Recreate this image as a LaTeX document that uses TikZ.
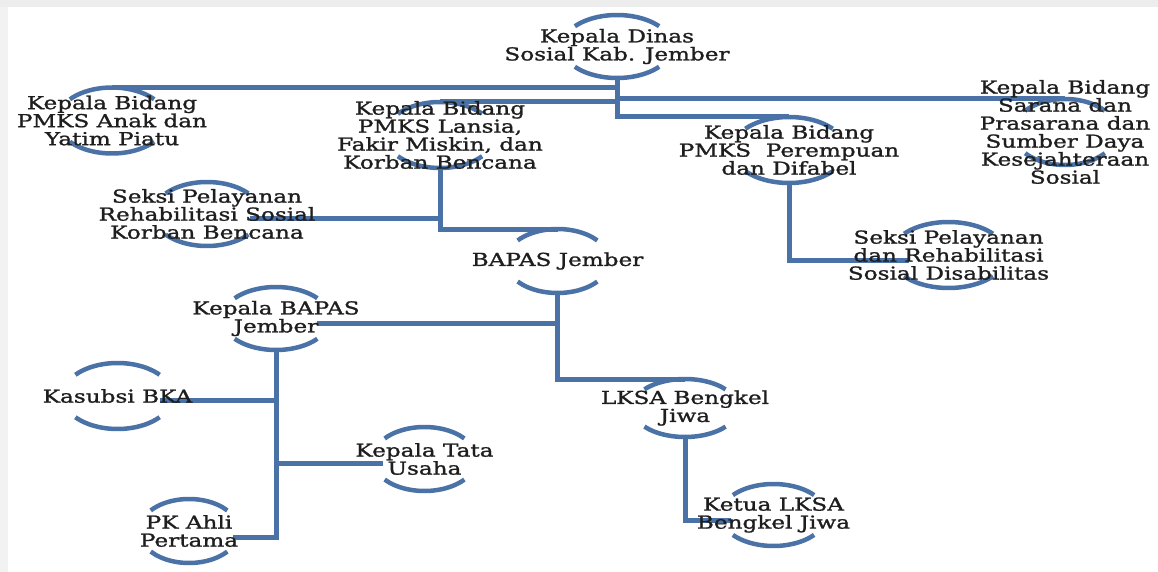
\documentclass[tikz,border=0pt]{standalone}
\usepackage{fontspec}
\usetikzlibrary{shapes.geometric}
\newfontfamily\camfont[FakeStretch=1.3,FakeBold=1.3]{DejaVu Serif}
\definecolor{blu}{HTML}{4A72A6}
\definecolor{txt}{HTML}{1E1E1E}
\pgfdeclarelayer{bg}
\pgfdeclarelayer{background}
\pgfsetlayers{bg,background,main}
\tikzset{
  ovalshape/.style={shape=ellipse, draw=none, inner sep=0pt, outer sep=0pt},
  arcline/.style={draw=blu, line width=4.5pt},
  conn/.style={draw=blu, line width=5pt, line join=miter},
  lbl/.style={font=\camfont\fontsize{17.8}{18}\selectfont, align=center, text=txt, inner sep=0pt}
}
\newcommand{\ovl}[6]{%
  \node[ovalshape, minimum width=#4*2pt, minimum height=#5*2pt] (#1) at (#2,#3) {};
  \begin{pgfonlayer}{background}
  \draw[arcline] (#1.center) ++(40:#4pt and #5pt) arc[start angle=40,end angle=140,x radius=#4pt,y radius=#5pt];
  \draw[arcline] (#1.center) ++(220:#4pt and #5pt) arc[start angle=220,end angle=320,x radius=#4pt,y radius=#5pt];
  \end{pgfonlayer}
  \node[lbl] (#1-t) at (#1.center) {#6};
}
\begin{document}
\begin{tikzpicture}[x=1pt,y=-1pt]
\useasboundingbox (0,0) rectangle (1158,572);
\begin{pgfonlayer}{bg}
\fill[white] (0,0) rectangle (1158,572);
\fill[black!7] (0,0) rectangle (1158,7);
\fill[black!5] (0,7) rectangle (8,572);
\end{pgfonlayer}

\ovl{dinas}{617}{46.5}{55}{31.5}{Kepala Dinas\\Sosial Kab. Jember}
\ovl{anak}{112}{120.5}{55}{33}{Kepala Bidang\\PMKS Anak dan\\Yatim Piatu}
\ovl{lansia}{440}{135}{55}{33}{Kepala Bidang\\PMKS Lansia,\\Fakir Miskin, dan\\Korban Bencana}
\ovl{perem}{789}{150}{57}{33}{Kepala Bidang\\PMKS\ \ Perempuan\\dan Difabel}
\ovl{sarana}{1065}{132}{52}{33}{Kepala Bidang\\Sarana dan\\Prasarana dan\\Sumber Daya\\Kesejahteraan\\Sosial}
\ovl{korban}{207}{214}{54}{32}{Seksi Pelayanan\\Rehabilitasi Sosial\\Korban Bencana}
\ovl{bapas}{557.5}{261}{52}{32}{BAPAS Jember}
\ovl{disab}{948.5}{255}{58}{33}{Seksi Pelayanan\\dan Rehabilitasi\\Sosial Disabilitas}
\ovl{kbapas}{276}{318.5}{54}{31.5}{Kepala BAPAS\\Jember}
\ovl{kasubsi}{117.5}{396}{55}{33}{Kasubsi BKA}
\ovl{tata}{424.5}{459}{52}{32}{Kepala Tata\\Usaha}
\ovl{lksa}{685}{408}{53}{29}{LKSA Bengkel\\Jiwa}
\ovl{pk}{189}{531}{50}{32}{PK Ahli\\Pertama}
\ovl{ketua}{773.5}{515}{53}{31}{Ketua LKSA\\Bengkel Jiwa}

\begin{pgfonlayer}{background}
\draw[conn] (dinas.south) |- (anak.north);
\draw[conn] (dinas.south) |- (lansia.north);
\draw[conn] (dinas.south) |- (sarana.north);
\draw[conn] (dinas.south) |- (perem.north);
\draw[conn] (lansia.south) |- ([shift={(43pt,-4pt)}]korban.center);
\draw[conn] (lansia.south) |- (bapas.north);
\draw[conn] (perem.south) |- ([shift={(-40pt,-5pt)}]disab.center);
\draw[conn] (bapas.south) |- ([shift={(41pt,-4.5pt)}]kbapas.center);
\draw[conn] (bapas.south) |- (lksa.north);
\draw[conn] (lksa.south) |- ([shift={(-43pt,-5pt)}]ketua.center);
\draw[conn] (kbapas.south) |- ([shift={(42.5pt,-4pt)}]kasubsi.center);
\draw[conn] (kbapas.south) |- ([shift={(-41.5pt,-4pt)}]tata.center);
\draw[conn] (kbapas.south) |- ([shift={(44pt,-6pt)}]pk.center);
\end{pgfonlayer}
\end{tikzpicture}
\end{document}
